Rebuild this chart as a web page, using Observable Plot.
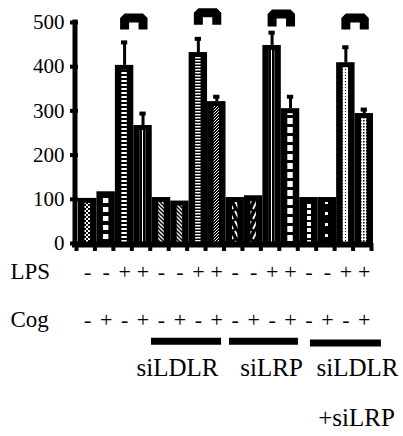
<!DOCTYPE html>
<html><head><meta charset="utf-8">
<script src="https://cdn.jsdelivr.net/npm/d3@7"></script>
<script src="https://cdn.jsdelivr.net/npm/@observablehq/plot@0.6"></script>
<style>
body{margin:0;background:#fff}
</style>
</head><body>
<div id="chart"></div>
<script>
// ---- data ----
const barIndex   = [1,2,3,4,5,6,7,8,9,10,11,12,13,14,15,16];
const barValues  = [102,117,403,267,104,96,432,321,104,108,448,305,104,104,409,294];
const errorTops  = [null,null,455,294,null,null,463,332,null,null,477,332,null,null,444,303];
const barPattern = ["p1","p2","p3","p4","p5","p5","p7","p8","p9","p10","p4","p12","p13","p14","p15","p16"];
const lpsSigns   = ["-","-","+","+","-","-","+","+","-","-","+","+","-","-","+","+"];
const cogSigns   = ["-","+","-","+","-","+","-","+","-","+","-","+","-","+","-","+"];
const yTicks     = [0,100,200,300,400,500];
// significance brackets (bar positions and heights in data units)
const bracketLeft  = [3,7,11,15];
const bracketRight = [4,8,12,16];
const bracketTop   = [510,522,519,510];
const bracketFoot  = [484,495,491,484];
// group underlines and labels
const groupLineStart = [4.46,8.69,13.08];
const groupLineEnd   = [8.26,12.43,16.93];
const groupLineY     = [-221,-221,-225];
const groupLabels    = ["siLDLR","siLRP","siLDLR","+siLRP"];
const groupLabelX    = [5.87,10.97,15.63,15.58];
const groupLabelY    = [-299,-299,-299,-412];
const rowLabels      = ["LPS","Cog"];
const rowLabelY      = [-81,-190];

// ---- derived tables ----
const rows = barIndex.map((i,k)=>({i, v:barValues[k], e:errorTops[k], pat:`url(#${barPattern[k]})`}));
const errRows = rows.filter(d=>d.e!=null);
const bracketPts = bracketLeft.flatMap((l,k)=>[
  {g:k,x:l,y:bracketFoot[k]},{g:k,x:l,y:bracketTop[k]},
  {g:k,x:bracketRight[k],y:bracketTop[k]},{g:k,x:bracketRight[k],y:bracketFoot[k]}]);
const lpsRows = barIndex.map((i,k)=>({i,s:lpsSigns[k]}));
const cogRows = barIndex.map((i,k)=>({i,s:cogSigns[k]}));
const groupLines = groupLineStart.map((s,k)=>({x1:s,x2:groupLineEnd[k],y:groupLineY[k]}));
const labels = groupLabels.map((t,k)=>({t,x:groupLabelX[k],y:groupLabelY[k]}));
const rowLab = rowLabels.map((t,k)=>({t,y:rowLabelY[k]}));
const edges = barIndex.map(i=>i-0.5).concat([barIndex.length+0.5]);

const font = "Liberation Serif";
const chart = Plot.plot({
  width:403, height:436,
  marginLeft:78, marginRight:30, marginTop:22, marginBottom:193,
  x:{domain:[0.5,16.5], axis:null},
  y:{domain:[0,500]},
  color:{type:"identity"},
  marks:[
    Plot.rectY(rows,{x1:d=>d.i-0.5,x2:d=>d.i+0.5,y1:0,y2:"v",fill:"black"}),
    Plot.rectY(rows,{x1:d=>d.i-0.5,x2:d=>d.i+0.5,y1:0,y2:"v",fill:"pat",insetLeft:6.5,insetRight:6.5,insetTop:5,insetBottom:1}),
    Plot.ruleX(errRows,{x:"i",y1:"v",y2:"e",strokeWidth:3,stroke:"black"}),
    Plot.ruleY(errRows,{y:"e",x1:d=>d.i-0.17,x2:d=>d.i+0.17,strokeWidth:4,stroke:"black"}),
    Plot.line(bracketPts,{x:"x",y:"y",z:"g",strokeWidth:9,stroke:"black",strokeLinejoin:"miter",strokeLinecap:"butt"}),
    Plot.ruleX([0.5],{y1:0,y2:500,dx:-3.5,strokeWidth:5,stroke:"black",strokeLinecap:"square"}),
    Plot.ruleY([0],{x1:0.175,x2:16.5,dy:1,strokeWidth:6,stroke:"black"}),
    Plot.ruleX(edges,{y1:0,y2:-18,dx:-2,strokeWidth:4,stroke:"black"}),
    Plot.axisY({ticks:yTicks,tickSize:8,tickPadding:6,strokeWidth:4,stroke:"black",fill:"black",fontSize:21,fontFamily:font}),
    Plot.text(lpsRows,{x:"i",y:rowLabelY[0],text:"s",fill:"black",fontSize:22,fontFamily:font,lineAnchor:"bottom"}),
    Plot.text(cogRows,{x:"i",y:rowLabelY[1],text:"s",fill:"black",fontSize:22,fontFamily:font,lineAnchor:"bottom"}),
    Plot.text(rowLab,{x:-3.19,y:"y",text:"t",fill:"black",fontSize:23,fontFamily:font,textAnchor:"start",lineAnchor:"bottom"}),
    Plot.ruleY(groupLines,{y:"y",x1:"x1",x2:"x2",strokeWidth:7,stroke:"black"}),
    Plot.text(labels,{x:"x",y:"y",text:"t",fill:"black",fontSize:25,fontFamily:font,lineAnchor:"bottom"})
  ]
});
chart.setAttribute("font-family", font);
// fill patterns for the inner columns of the bars (style only)
const defs = `
<pattern id="p1" width="4" height="4" patternUnits="userSpaceOnUse"><rect width="4" height="4" fill="#fff"/><rect width="2" height="2" fill="#000"/><rect x="2" y="2" width="2" height="2" fill="#000"/></pattern>
<pattern id="p2" width="6" height="9" patternUnits="userSpaceOnUse"><rect width="6" height="9" fill="#000"/><rect width="6" height="5" fill="#fff"/></pattern>
<pattern id="p3" width="6" height="4" patternUnits="userSpaceOnUse"><rect width="6" height="4" fill="#000"/><rect width="6" height="2" fill="#fff"/></pattern>
<pattern id="p4" width="3" height="4" patternUnits="userSpaceOnUse"><rect width="3" height="4" fill="#000"/><rect x="1" width="1" height="4" fill="#fff"/></pattern>
<pattern id="p5" width="4" height="4" patternUnits="userSpaceOnUse"><rect width="4" height="4" fill="#000"/><path d="M0,0L4,4M-1,3L1,5M3,-1L5,1" stroke="#fff" stroke-width="1.3"/></pattern>
<pattern id="p7" width="6" height="3" patternUnits="userSpaceOnUse"><rect width="6" height="3" fill="#000"/><rect width="6" height="1.5" fill="#fff"/></pattern>
<pattern id="p8" width="3" height="3" patternUnits="userSpaceOnUse"><rect width="3" height="3" fill="#000"/><path d="M0,3L3,0" stroke="#fff" stroke-width="1"/></pattern>
<pattern id="p9" width="6" height="10" patternUnits="userSpaceOnUse"><rect width="6" height="10" fill="#000"/><path d="M1,1L5,9" stroke="#fff" stroke-width="1.8"/></pattern>
<pattern id="p10" width="6" height="10" patternUnits="userSpaceOnUse"><rect width="6" height="10" fill="#000"/><path d="M5,1L1,9" stroke="#fff" stroke-width="1.8"/></pattern>
<pattern id="p12" width="6" height="9" patternUnits="userSpaceOnUse"><rect width="6" height="9" fill="#000"/><rect y="1" width="6" height="6" fill="#fff"/></pattern>
<pattern id="p13" width="6" height="6" patternUnits="userSpaceOnUse"><rect width="6" height="6" fill="#000"/><rect x="1" width="4" height="4" fill="#fff"/></pattern>
<pattern id="p14" width="6" height="11" patternUnits="userSpaceOnUse"><rect width="6" height="11" fill="#000"/><rect x="1" y="3" width="3" height="3" fill="#fff"/></pattern>
<pattern id="p15" width="3" height="3" patternUnits="userSpaceOnUse"><rect width="3" height="3" fill="#fff"/><rect width="1" height="1" fill="#000"/></pattern>
<pattern id="p16" width="3" height="3" patternUnits="userSpaceOnUse"><rect width="3" height="3" fill="#fff"/><rect width="1.5" height="1.5" fill="#000"/></pattern>`;
const parsed = new DOMParser().parseFromString(`<svg xmlns="http://www.w3.org/2000/svg"><defs>${defs}</defs></svg>`, "image/svg+xml");
chart.insertBefore(document.importNode(parsed.documentElement.firstChild, true), chart.firstChild);
document.getElementById("chart").append(chart);
</script>
</body></html>
